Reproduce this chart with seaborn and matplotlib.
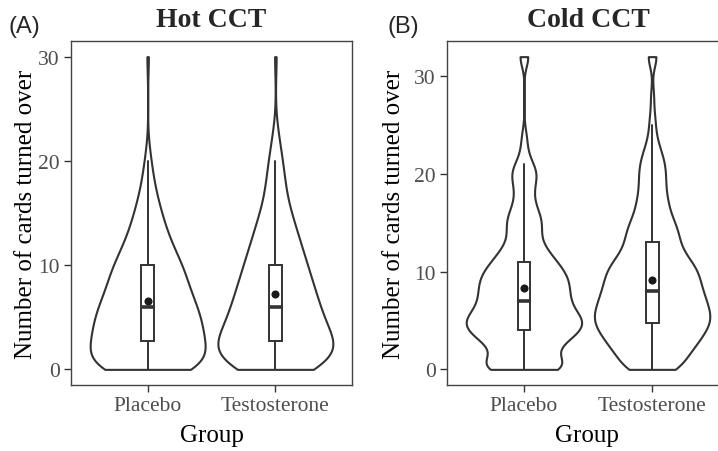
import numpy as np
import pandas as pd
import matplotlib
matplotlib.use("Agg")
import matplotlib.pyplot as plt
import seaborn as sns

# ---------------- data ----------------
groups = ["Placebo", "Testosterone"]

# Hot CCT: number of participants per score (0..30)
hot_scores = list(range(0, 31))
hot_placebo_counts = [28, 22, 20, 20, 20, 19, 18, 16, 14, 14, 13, 10, 9, 7, 6, 5,
                      4, 3, 2, 2, 1, 1, 0, 0, 0, 0, 0, 0, 0, 0, 1]
hot_testo_counts = [16, 22, 21, 18, 16, 15, 14, 13, 12, 11, 10, 9, 8, 7, 6, 5,
                    4, 3, 3, 3, 2, 2, 1, 1, 0, 0, 0, 0, 0, 0, 1]

# Cold CCT: number of participants per score (0..32)
cold_scores = list(range(0, 33))
cold_placebo_counts = [18, 11, 8, 14, 18, 20, 15, 14, 14, 14, 13, 10, 8, 5, 5, 6,
                       5, 3, 3, 3, 5, 3, 1, 1, 1, 0, 0, 0, 0, 0, 0, 0, 3]
cold_testo_counts = [10, 9, 12, 14, 16, 18, 17, 16, 15, 14, 14, 12, 9, 8, 8, 7,
                     5, 5, 4, 4, 4, 4, 3, 2, 1, 1, 1, 0, 1, 0, 0, 0, 3]

# Box-plot summaries and means (Placebo, Testosterone)
hot_whisker_low = [0, 0]
hot_q1 = [2.75, 2.75]
hot_median = [6, 6]
hot_q3 = [10, 10]
hot_whisker_high = [20, 20]
hot_mean = [6.6, 7.2]

cold_whisker_low = [0, 0]
cold_q1 = [4, 4.75]
cold_median = [7, 8]
cold_q3 = [11, 13]
cold_whisker_high = [21, 25]
cold_mean = [8.3, 9.1]

panel_titles = ["Hot CCT", "Cold CCT"]
panel_tags = ["(A)", "(B)"]
y_ticks = [0, 10, 20, 30]

# ---------------- style ----------------
sns.set_theme(style="white")
plt.rcParams["font.family"] = ["Liberation Serif", "DejaVu Serif"]
DARK = "#333333"


def make_df(scores, c_pl, c_te):
    vals = np.concatenate([np.repeat(scores, c_pl), np.repeat(scores, c_te)])
    grp = [groups[0]] * int(sum(c_pl)) + [groups[1]] * int(sum(c_te))
    return pd.DataFrame({"Group": grp, "Score": vals})


fig = plt.figure(figsize=(7.18, 4.52), dpi=100)
W, H = 718, 452


def px_axes(left, right, top, bottom):
    return fig.add_axes([left / W, 1 - bottom / H, (right - left) / W, (bottom - top) / H])


ax_a = px_axes(71, 352, 42, 386)
ax_b = px_axes(447, 729, 42, 386)

panels = [
    (ax_a, make_df(hot_scores, hot_placebo_counts, hot_testo_counts), 1.6,
     hot_whisker_low, hot_q1, hot_median, hot_q3, hot_whisker_high, hot_mean, (-1.5, 31.5), 34),
    (ax_b, make_df(cold_scores, cold_placebo_counts, cold_testo_counts), 1.05,
     cold_whisker_low, cold_q1, cold_median, cold_q3, cold_whisker_high, cold_mean, (-1.6, 33.6), 42),
]

for i, (ax, df, bw, wl, q1, med, q3, wh, mn, ylim, ylab_px) in enumerate(panels):
    factor = bw / df["Score"].std()
    sns.violinplot(data=df, x="Group", y="Score", order=groups, ax=ax,
                   cut=0, density_norm="width", width=0.9, inner=None,
                   bw_method=factor, gridsize=400, color="white",
                   linecolor=DARK, linewidth=1.5, saturation=1)
    stats = [dict(whislo=wl[k], q1=q1[k], med=med[k], q3=q3[k], whishi=wh[k])
             for k in range(len(groups))]
    ax.bxp(stats, positions=range(len(groups)), widths=0.1, showfliers=False,
           showcaps=False, patch_artist=True, manage_ticks=False,
           boxprops=dict(facecolor="white", edgecolor=DARK, linewidth=1.4),
           medianprops=dict(color=DARK, linewidth=2.6, solid_capstyle="butt"),
           whiskerprops=dict(color=DARK, linewidth=1.4))
    ax.scatter(range(len(groups)), mn, s=34, color="#1a1a1a", zorder=5, linewidths=0)

    ax.set_xlim(-0.6, 1.6)
    ax.set_ylim(*ylim)
    ax.set_yticks(y_ticks)
    ax.set_xticks(range(len(groups)))
    ax.set_xticklabels(groups)
    for sp in ax.spines.values():
        sp.set_visible(True)
        sp.set_color("#444444")
        sp.set_linewidth(1.0)
    ax.tick_params(axis="both", direction="out", length=5, width=1.0, color=DARK,
                   labelsize=15.5, labelcolor="#4d4d4d", pad=3, left=True, bottom=True)
    ax.set_xlabel("Group", fontsize=18, color="black")
    ax.set_ylabel("Number of cards turned over", fontsize=18, color="black")
    ax.xaxis.set_label_coords(0.5 if i == 0 else (587 - 447) / 282, -0.113)
    ax.yaxis.set_label_coords(-ylab_px / (282 if i else 281), 0.5)
    ax.set_title(panel_titles[i], fontsize=20, fontweight="bold", pad=11)
    ax.grid(False)

fig.text(8 / W, 1 - 33 / H, panel_tags[0], family=["Liberation Sans"], fontsize=17,
         va="baseline", ha="left")
fig.text(388 / W, 1 - 33 / H, panel_tags[1], family=["Liberation Sans"], fontsize=17,
         va="baseline", ha="left")

fig.savefig("out.png", dpi=100, facecolor="white")
